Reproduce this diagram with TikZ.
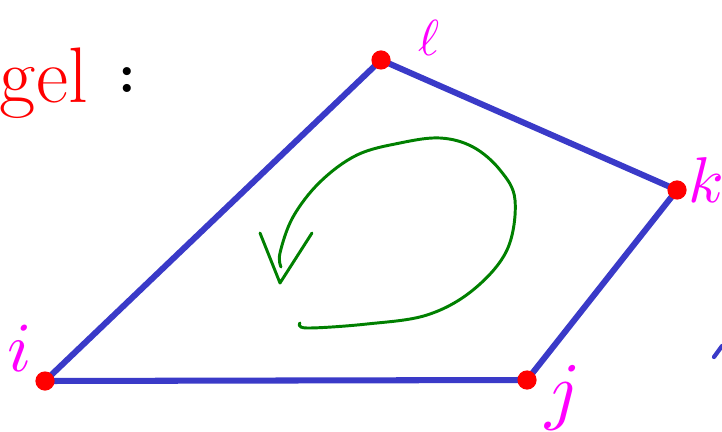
\documentclass[tikz,border=0pt]{standalone}
\usetikzlibrary{calc}
\definecolor{edgeblue}{HTML}{3A3AC8}
\definecolor{vertred}{HTML}{FF0000}
\definecolor{labelmag}{HTML}{FF00FF}
\definecolor{turngreen}{HTML}{008000}

\begin{document}
\begin{tikzpicture}[x=0.025cm,y=-0.025cm,
 vert/.style={circle,fill=vertred,inner sep=0pt,minimum width=0.42cm,minimum height=0.48cm},
 edge/.style={edgeblue,line width=4.3pt,line cap=round},
 lbl/.style={labelmag,inner sep=0pt},
 turn/.style={turngreen,line width=2.1pt,line cap=round,line join=round}]
\useasboundingbox (0,0) rectangle (722,432);
% corners of the quadrilateral
\coordinate (i) at (45,381);
\coordinate (j) at (527,380);
\coordinate (k) at (677,190);
\coordinate (l) at (381,60);
\draw[edge] (i) -- (j) -- (k) -- (l) -- cycle;
\foreach \v in {i,j,k,l} \node[vert] (dot\v) at (\v) {};
% corner labels
\node[lbl] (li) at (20,348) {\scalebox{5}{$i$}};
\node[lbl] (lj) at (563,398) {\scalebox{5.4}{$j$}};
\node[lbl] (lk) at (706,180) {\scalebox{4.6}{$k$}};
\node[lbl] (ll) at (429,38) {\scalebox{3.6}{$\ell$}};
% heading, cut at the left border
\node[vertred,inner sep=0pt,anchor=base east,font=\fontsize{56}{56}\selectfont] (word) at (88,103) {gel};
\node[inner sep=0pt,font=\fontsize{40}{40}\selectfont\bfseries] (colon) at (127,80) {:};
% circulation sense
\draw[turn] plot[smooth,tension=0.6] coordinates {(300,323) (307,328) (367,324) (427,315) (473,290) (507,250) (515,200) (500,170) (473,147) (440,138) (400,143) (357,155) (320,182) (293,217) (280,253) (281,267)};
\draw[turn] (260,233) -- (280,283) -- (312,233);
% stray stroke at the right border
\draw[edgeblue,line width=3pt,line cap=round] (714,357) -- (722,346);
\end{tikzpicture}
\end{document}
